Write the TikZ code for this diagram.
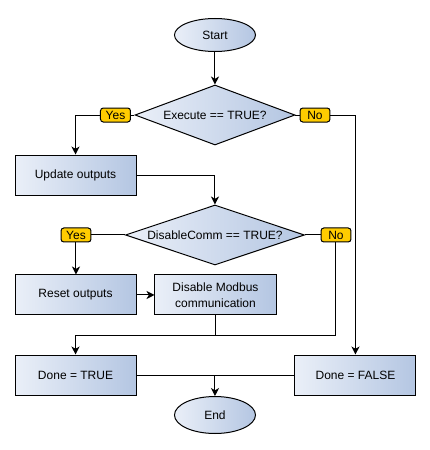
\documentclass[tikz,border=0pt]{standalone}
\usepackage{fontspec}
\setmainfont{Liberation Sans}
\usetikzlibrary{arrows.meta, shapes.geometric}

\begin{document}
\begin{tikzpicture}[
  font=\fontsize{12}{16}\selectfont,
  line width=0.035146cm,
  box/.style={draw, left color=box_left_color, right color=box_right_color, minimum width=4.253000cm, minimum height=1.406000cm, inner sep=0, align=center},
  decision/.style={diamond, draw, aspect=3, left color=box_left_color, right color=box_right_color, minimum height=2.109000cm, inner sep=0},
  terminal/.style={ellipse, draw, left color=box_left_color, right color=box_right_color, minimum width=2.847000cm, inner sep=0},
  answer/.style={draw, fill=answer_color, rounded corners=0.100000cm, minimum width=1.054000cm, minimum height=0.492000cm, inner sep=0},
  flow/.style={-{Stealth[length=0.280000cm, width=0.280000cm, inset=0.080000cm]}},
]
\definecolor{box_left_color}{RGB}{234,239,248}
\definecolor{box_right_color}{RGB}{180,198,226}
\definecolor{answer_color}{RGB}{255,204,0}

\useasboundingbox (0,0) rectangle (15.113000,-15.816000);

\node[terminal, minimum height=1.160000cm] (start) at (7.556000,-1.230000) {Start};

\node[decision, minimum width=5.623000cm] (exec_check) at (7.556000,-4.042000) {Execute == TRUE?};
\node[answer] (exec_yes) at (4.059000,-4.042000) {Yes};
\node[answer] (exec_no) at (11.071000,-4.042000) {No};

\node[box] (update) at (2.654000,-6.151000) {Update outputs};

\node[decision, minimum width=6.291000cm] (comm_check) at (7.556000,-8.259000) {DisableComm == TRUE?};
\node[answer] (comm_yes) at (2.671000,-8.259000) {Yes};
\node[answer] (comm_no) at (11.809000,-8.259000) {No};

\node[box] (reset) at (2.654000,-10.368000) {Reset outputs};
\node[box] (disable) at (7.574000,-10.368000) {Disable Modbus\\communication};

\node[box] (done_true) at (2.654000,-13.180000) {Done = TRUE};
\node[box] (done_false) at (12.494000,-13.180000) {Done = FALSE};

\node[terminal, minimum height=1.300000cm] (end) at (7.556000,-14.586000) {End};

\coordinate (join_pt) at (2.654000,-11.774000);
\coordinate (merge_pt) at (end.north |- done_true.east);


\draw[flow] (start) -- (exec_check);
\draw (exec_check) -- (exec_yes);
\draw (exec_check) -- (exec_no);
\draw[flow] (exec_yes.west) -| (update.north);
\draw[flow] (exec_no.east) -| (done_false.north);

\draw[flow] (update.east) -| (comm_check.north);
\draw (comm_check) -- (comm_yes);
\draw (comm_check) -- (comm_no);
\draw[flow] (comm_yes.south) -- (comm_yes.south |- reset.north);
\draw[flow] (reset) -- (disable);

\draw[flow] (comm_no.south) |- (join_pt) -- (done_true.north);
\draw (disable.south) -- (disable.south |- join_pt);

\draw (done_true) -- (done_false);
\draw[flow] (merge_pt) -- (end);

\end{tikzpicture}
\end{document}
